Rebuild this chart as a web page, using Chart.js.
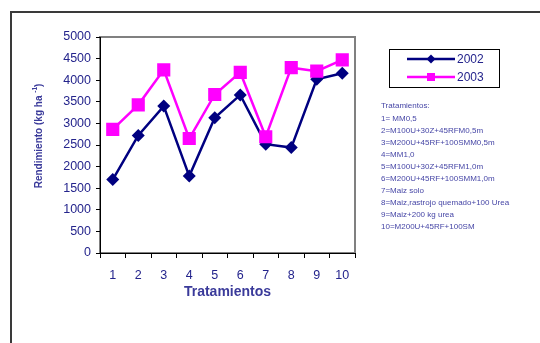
<!DOCTYPE html>
<html>
<head>
<meta charset="utf-8">
<script src="https://cdn.jsdelivr.net/npm/chart.js@4/dist/chart.umd.min.js"></script>
<style>
  html, body { margin: 0; padding: 0; background: #ffffff; }
  #wrap { width: 540px; height: 343px; position: relative; }
</style>
</head>
<body>
<div id="wrap"><canvas id="c" width="540" height="343"></canvas></div>
<script>
// Treatments (x axis)
const tratamientos = ['1', '2', '3', '4', '5', '6', '7', '8', '9', '10'];
// Yield, kg/ha
const rend2002 = [1700, 2720, 3400, 1780, 3130, 3660, 2520, 2440, 4020, 4160];
const rend2003 = [2860, 3430, 4240, 2650, 3670, 4180, 2690, 4290, 4210, 4470];
const yTicks = { min: 0, max: 5000, step: 500 };
// Key to treatment codes
const claves = [
  'Tratamientos:',
  '1= MM0,5',
  '2=M100U+30Z+45RFM0,5m',
  '3=M200U+45RF+100SMM0,5m',
  '4=MM1,0',
  '5=M100U+30Z+45RFM1,0m',
  '6=M200U+45RF+100SMM1,0m',
  '7=Maiz solo',
  '8=Maiz,rastrojo quemado+100 Urea',
  '9=Maiz+200 kg urea',
  '10=M200U+45RF+100SM'
];

const NAVY = '#000080';
const MAGENTA = '#ff00ff';
const TEXT = '#24248c';
const FONT = '"Liberation Sans", Arial, sans-serif';

const decor = {
  id: 'decor',
  beforeDraw(chart) {
    const ctx = chart.ctx;
    const a = chart.chartArea;
    ctx.save();
    // outer frame
    ctx.strokeStyle = '#3a3a3a';
    ctx.lineWidth = 2;
    ctx.beginPath();
    ctx.moveTo(11, 343);
    ctx.lineTo(11, 12);
    ctx.lineTo(540, 12);
    ctx.stroke();
    // plot area frame
    ctx.strokeStyle = '#808080';
    ctx.lineWidth = 2;
    ctx.strokeRect(a.left, a.top, a.right - a.left, a.bottom - a.top);
    ctx.restore();
  },
  afterDraw(chart) {
    const ctx = chart.ctx;
    const a = chart.chartArea;
    ctx.save();
    // y axis title with superscript
    ctx.translate(39, (a.top + a.bottom) / 2 - 9);
    ctx.rotate(-Math.PI / 2);
    ctx.fillStyle = '#3a3a9a';
    const main = 'Rendimiento (kg ha ';
    const sup = '-1';
    const end = ')';
    ctx.font = 'bold 10px ' + FONT;
    const w1 = ctx.measureText(main).width;
    const w3 = ctx.measureText(end).width;
    ctx.font = 'bold 6.5px ' + FONT;
    const w2 = ctx.measureText(sup).width;
    const total = w1 + w2 + w3;
    let x = -total / 2;
    ctx.textBaseline = 'middle';
    ctx.textAlign = 'left';
    ctx.font = 'bold 10px ' + FONT;
    ctx.fillText(main, x, 0);
    ctx.font = 'bold 6.5px ' + FONT;
    ctx.fillText(sup, x + w1, -4);
    ctx.font = 'bold 10px ' + FONT;
    ctx.fillText(end, x + w1 + w2, 0);
    ctx.restore();

    // legend box
    ctx.save();
    ctx.strokeStyle = '#000000';
    ctx.lineWidth = 1;
    ctx.strokeRect(389.5, 49.5, 110, 38);
    const rows = [59, 77];
    chart.data.datasets.slice().sort((p, q) => p.legendIndex - q.legendIndex).forEach((ds, i) => {
      const y = rows[i];
      ctx.strokeStyle = ds.borderColor;
      ctx.lineWidth = 2.5;
      ctx.beginPath();
      ctx.moveTo(407, y);
      ctx.lineTo(455, y);
      ctx.stroke();
      ctx.fillStyle = ds.borderColor;
      if (ds.pointStyle === 'rectRot') {
        ctx.beginPath();
        ctx.moveTo(431, y - 4.5);
        ctx.lineTo(435.5, y);
        ctx.lineTo(431, y + 4.5);
        ctx.lineTo(426.5, y);
        ctx.closePath();
        ctx.fill();
      } else {
        ctx.fillRect(427, y - 4, 8, 8);
      }
      ctx.fillStyle = TEXT;
      ctx.font = '12px ' + FONT;
      ctx.textBaseline = 'middle';
      ctx.textAlign = 'left';
      ctx.fillText(ds.label, 457, y + 0.5);
    });

    // treatment key
    ctx.fillStyle = '#4646a6';
    ctx.font = '8px ' + FONT;
    ctx.textBaseline = 'middle';
    claves.forEach((t, i) => {
      const y = i === 0 ? 106 : 119 + (i - 1) * 12;
      ctx.fillText(t, 381, y);
    });
    ctx.restore();
  }
};

new Chart(document.getElementById('c'), {
  type: 'line',
  data: {
    labels: tratamientos,
    datasets: [
      {
        label: '2002',
        legendIndex: 0,
        order: 1,
        data: rend2002,
        borderColor: NAVY,
        backgroundColor: NAVY,
        borderWidth: 2.5,
        pointStyle: 'rectRot',
        pointRadius: 6.5,
        pointBorderWidth: 0,
        pointBackgroundColor: NAVY,
        tension: 0
      },
      {
        label: '2003',
        legendIndex: 1,
        order: 0,
        data: rend2003,
        borderColor: MAGENTA,
        backgroundColor: MAGENTA,
        borderWidth: 2.5,
        pointStyle: 'rect',
        pointRadius: 9.3,
        pointBorderWidth: 0,
        pointBackgroundColor: MAGENTA,
        tension: 0
      }
    ]
  },
  options: {
    responsive: false,
    animation: false,
    devicePixelRatio: 1,
    layout: { padding: { left: 0, top: 37, right: 185, bottom: 0 } },
    plugins: {
      legend: { display: false },
      tooltip: { enabled: false }
    },
    scales: {
      x: {
        type: 'category',
        offset: true,
        afterFit(scale) { scale.height = 90; },
        grid: {
          offset: true,
          drawOnChartArea: false,
          drawTicks: true,
          tickLength: 5,
          color: '#000000',
          lineWidth: 1
        },
        border: { display: true, color: '#000000', width: 1 },
        ticks: {
          color: TEXT,
          font: { family: FONT, size: 12.5 },
          padding: 10,
          maxRotation: 0,
          autoSkip: false
        },
        title: {
          display: true,
          text: 'Tratamientos',
          color: '#3a3a9a',
          font: { family: FONT, size: 14, weight: 'bold' },
          padding: { top: 0, bottom: 42 }
        }
      },
      y: {
        min: yTicks.min,
        max: yTicks.max,
        afterFit(scale) { scale.width = 100; },
        grid: {
          drawOnChartArea: false,
          drawTicks: true,
          tickLength: 4,
          color: '#000000',
          lineWidth: 1
        },
        border: { display: true, color: '#000000', width: 1 },
        ticks: {
          stepSize: yTicks.step,
          color: TEXT,
          font: { family: FONT, size: 12.5 },
          padding: 5,
          callback: (v) => String(v)
        }
      }
    }
  },
  plugins: [decor]
});
</script>
</body>
</html>
